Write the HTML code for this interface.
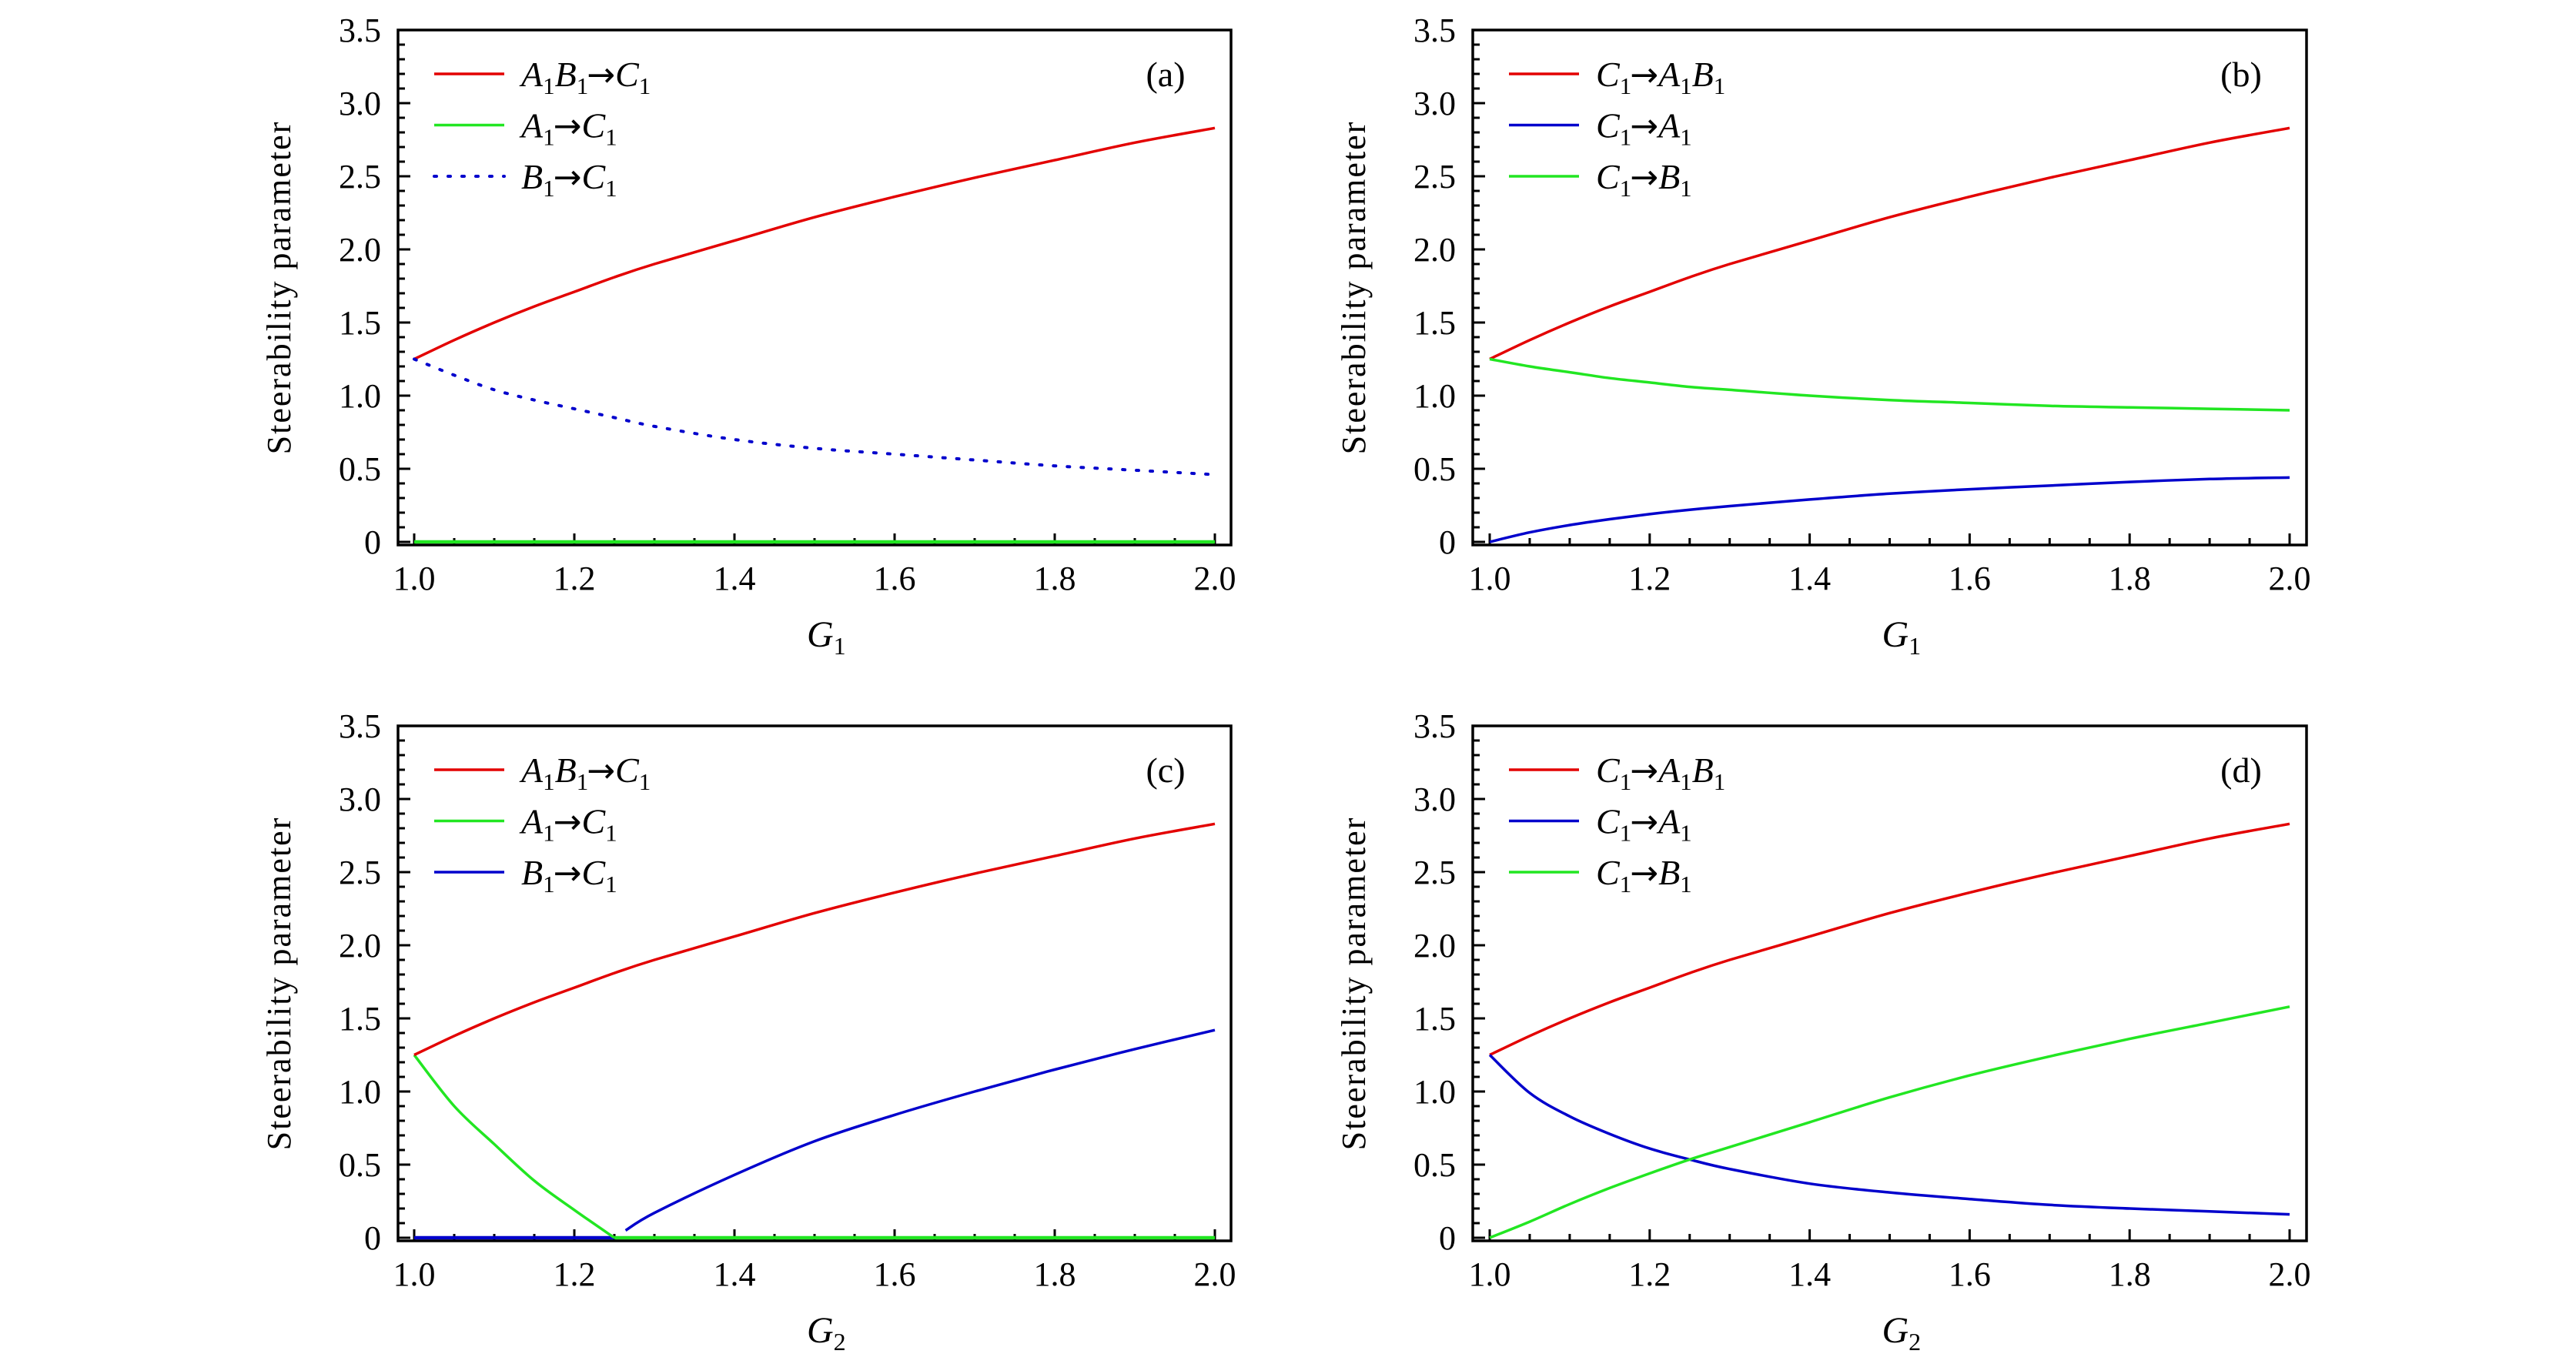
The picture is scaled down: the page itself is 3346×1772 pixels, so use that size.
<!DOCTYPE html>
<html><head><meta charset="utf-8"><style>
html,body{margin:0;padding:0;background:#fff;}
svg{display:block;}
text{font-family:"Liberation Serif",serif;fill:#000;}
</style></head><body>
<svg id="fig" xmlns="http://www.w3.org/2000/svg" width="3346" height="1772" viewBox="0 0 3346 1772"></svg>
<script>
const gx = [1.0,1.05,1.1,1.15,1.2,1.25,1.3,1.4,1.5,1.6,1.7,1.8,1.9,2.0];
const redAB = [1.25,1.38,1.50,1.61,1.71,1.81,1.90,2.06,2.22,2.36,2.49,2.61,2.73,2.83];
const aBlueDot = [1.25,1.14,1.04,0.97,0.91,0.85,0.79,0.70,0.64,0.60,0.56,0.52,0.49,0.46];
const aGreen = [0,0,0,0,0,0,0,0,0,0,0,0,0,0];
const bGreen = [1.25,1.20,1.16,1.12,1.09,1.06,1.04,1.00,0.97,0.95,0.93,0.92,0.91,0.90];
const bBlue = [0,0.065,0.115,0.155,0.19,0.22,0.245,0.29,0.33,0.36,0.385,0.41,0.43,0.44];
const cGreenX = [1.0,1.05,1.1,1.15,1.2,1.25];
const cGreen = [1.25,0.90,0.64,0.39,0.19,0];
const cGreenZeroX = [1.25,2.0];
const cGreenZero = [0,0];
const cBlueLowX = [1.0,1.25];
const cBlueLow = [0,0];
const cBlueX = [1.264,1.3,1.4,1.5,1.6,1.7,1.8,1.9,2.0];
const cBlue = [0.05,0.17,0.43,0.66,0.84,1.00,1.15,1.29,1.42];
const dBlue = [1.25,0.99,0.83,0.71,0.61,0.535,0.47,0.37,0.31,0.265,0.225,0.20,0.18,0.16];
const dGreen = [0,0.11,0.23,0.34,0.44,0.535,0.62,0.79,0.96,1.11,1.24,1.36,1.47,1.58];
const xTicks = [1.0,1.2,1.4,1.6,1.8,2.0];
const xTickLabels = ["1.0","1.2","1.4","1.6","1.8","2.0"];
const yTicks = [0,0.5,1.0,1.5,2.0,2.5,3.0,3.5];
const yTickLabels = ["0","0.5","1.0","1.5","2.0","2.5","3.0","3.5"];

const RED="#e30000", GREEN="#22e622", BLUE="#0000cc";
const NS="http://www.w3.org/2000/svg";
const svg=document.getElementById('fig');
function mk(tag,attrs,parent){const e=document.createElementNS(NS,tag);for(const k in attrs)e.setAttribute(k,attrs[k]);(parent||svg).appendChild(e);return e;}
function smooth(p){
  if(p.length<3){return 'M'+p.map(q=>q[0].toFixed(1)+','+q[1].toFixed(1)).join(' L');}
  let d='M'+p[0][0].toFixed(1)+','+p[0][1].toFixed(1);
  for(let i=0;i<p.length-1;i++){
    const p0=p[i-1]||p[i],p1=p[i],p2=p[i+1],p3=p[i+2]||p[i+1];
    const c1=[p1[0]+(p2[0]-p0[0])/6,p1[1]+(p2[1]-p0[1])/6];
    const c2=[p2[0]-(p3[0]-p1[0])/6,p2[1]-(p3[1]-p1[1])/6];
    d+=` C${c1[0].toFixed(1)},${c1[1].toFixed(1)} ${c2[0].toFixed(1)},${c2[1].toFixed(1)} ${p2[0].toFixed(1)},${p2[1].toFixed(1)}`;
  }
  return d;
}

function panel(opt){
  const g=mk('g',{});
  
  
  const L=opt.L,R=opt.R,T=opt.T,B=opt.B,x1=opt.x1,x2=opt.x2;
  const Z=B-4;
  const sx=v=>x1+(v-1)*(x2-x1);
  const sy=v=>Z-v*(Z-T)/3.5;
  for(let i=0;i<=20;i++){const v=1+i*0.05;const major=i%4===0;
    const t=mk('line',{x1:sx(v),x2:sx(v),y1:B,y2:B-(major?15:9),stroke:'#000','stroke-width':3},g);
    }
  for(let i=0;i<=35;i++){const v=i*0.1;const major=i%5===0;
    const t=mk('line',{x1:L,x2:L+(major?16:9),y1:sy(v),y2:sy(v),stroke:'#000','stroke-width':3},g);
    }
  xTicks.forEach((v,i)=>{const t=mk('text',{x:sx(v),y:B+58,'font-size':44,'text-anchor':'middle'},g);t.textContent=xTickLabels[i];
    });
  yTicks.forEach((v,i)=>{const t=mk('text',{x:L-22,y:sy(v)+15,'font-size':44,'text-anchor':'end'},g);t.textContent=yTickLabels[i];
    });
  const yt=mk('text',{x:0,y:0,'font-size':44,'text-anchor':'middle','letter-spacing':'2',transform:`translate(${L-140},${(T+B)/2}) rotate(-90)`},g);
  yt.textContent='Steerability parameter';
  
  const xt=mk('text',{x:(L+R)/2-10,y:B+132,'font-size':48,'font-style':'italic'},g);
  
  const a=mk('tspan',{},xt);a.textContent='G';
  const b=mk('tspan',{'font-size':32,'font-style':'normal','baseline-shift':'-10'},xt);b.textContent=opt.xsub;
  opt.series.forEach(s=>{
    const pts=s.x.map((v,i)=>[sx(v),sy(s.y[i])]);
    const attrs={d:smooth(pts),fill:'none',stroke:s.color,'stroke-width':s.w||3.5,'stroke-linejoin':'round'};
    if(s.dot){attrs['stroke-dasharray']='3 15';attrs['stroke-linecap']='round';attrs['stroke-width']=4;}
    const p=mk('path',attrs,g);
    
  });
  const f=mk('rect',{x:L,y:T,width:R-L,height:B-T,fill:'none',stroke:'#000','stroke-width':3.5},g);
  
  opt.legend.forEach((e,i)=>{
    const y=T+57+i*66.5;
    const lg=mk('g',{},g);
    
    const la={x1:L+47,x2:L+138,y1:y,y2:y,stroke:e.color,'stroke-width':3.5};
    if(e.dot){la['stroke-dasharray']='3 15';la['stroke-linecap']='round';la['stroke-width']=4;}
    mk('line',la,lg);
    const t=mk('text',{x:L+160,y:y+16,'font-size':46},lg);
    e.parts.forEach(pr=>{const ts=mk('tspan',{},t);
      if(pr[1]==='i'){ts.setAttribute('font-style','italic');}
      else if(pr[1]==='s'){ts.setAttribute('font-size','31');ts.setAttribute('baseline-shift','-10');}
      else if(pr[1]==='a'){ts.setAttribute('font-family','DejaVu Sans');ts.setAttribute('font-size','44');ts.setAttribute('dx','-2');}
      ts.textContent=pr[0];});
  });
  const pl=mk('text',{x:R-85,y:T+73,'font-size':46,'text-anchor':'middle'},g);
  pl.textContent='('+opt.id+')';
  
}
const Lab1=[[["A",'i'],["1",'s'],["B",'i'],["1",'s'],["\u2192",'a'],["C",'i'],["1",'s']],
            [["A",'i'],["1",'s'],["\u2192",'a'],["C",'i'],["1",'s']],
            [["B",'i'],["1",'s'],["\u2192",'a'],["C",'i'],["1",'s']]];
const Lab2=[[["C",'i'],["1",'s'],["\u2192",'a'],["A",'i'],["1",'s'],["B",'i'],["1",'s']],
            [["C",'i'],["1",'s'],["\u2192",'a'],["A",'i'],["1",'s']],
            [["C",'i'],["1",'s'],["\u2192",'a'],["B",'i'],["1",'s']]];
const TOP={T:39,B:708}, BOT={T:943,B:1612};
const LEFT={L:517,R:1599,x1:538,x2:1578}, RIGHT={L:1913,R:2996,x1:1935,x2:2974};

panel(Object.assign({id:'a',xsub:'1',
  series:[{x:gx,y:aGreen,color:GREEN,name:'series-a1-to-c1',w:4.5},{x:gx,y:redAB,color:RED,name:'series-a1b1-to-c1'},{x:gx,y:aBlueDot,color:BLUE,dot:true,name:'series-b1-to-c1'}],
  legend:[{color:RED,parts:Lab1[0]},{color:GREEN,parts:Lab1[1]},{color:BLUE,dot:true,parts:Lab1[2]}]},TOP,LEFT));
panel(Object.assign({id:'b',xsub:'1',
  series:[{x:gx,y:redAB,color:RED,name:'series-c1-to-a1b1'},{x:gx,y:bBlue,color:BLUE,name:'series-c1-to-a1'},{x:gx,y:bGreen,color:GREEN,name:'series-c1-to-b1'}],
  legend:[{color:RED,parts:Lab2[0]},{color:BLUE,parts:Lab2[1]},{color:GREEN,parts:Lab2[2]}]},TOP,RIGHT));
panel(Object.assign({id:'c',xsub:'2',
  series:[{x:cBlueLowX,y:cBlueLow,color:BLUE,name:'series-b1-to-c1-zero',w:4.5},{x:cGreenZeroX,y:cGreenZero,color:GREEN,name:'series-a1-to-c1-zero',w:4.5},{x:cGreenX,y:cGreen,color:GREEN,name:'series-a1-to-c1'},{x:gx,y:redAB,color:RED,name:'series-a1b1-to-c1'},{x:cBlueX,y:cBlue,color:BLUE,name:'series-b1-to-c1'}],
  legend:[{color:RED,parts:Lab1[0]},{color:GREEN,parts:Lab1[1]},{color:BLUE,parts:Lab1[2]}]},BOT,LEFT));
panel(Object.assign({id:'d',xsub:'2',
  series:[{x:gx,y:redAB,color:RED,name:'series-c1-to-a1b1'},{x:gx,y:dBlue,color:BLUE,name:'series-c1-to-a1'},{x:gx,y:dGreen,color:GREEN,name:'series-c1-to-b1'}],
  legend:[{color:RED,parts:Lab2[0]},{color:BLUE,parts:Lab2[1]},{color:GREEN,parts:Lab2[2]}]},BOT,RIGHT));
</script>
</body></html>
